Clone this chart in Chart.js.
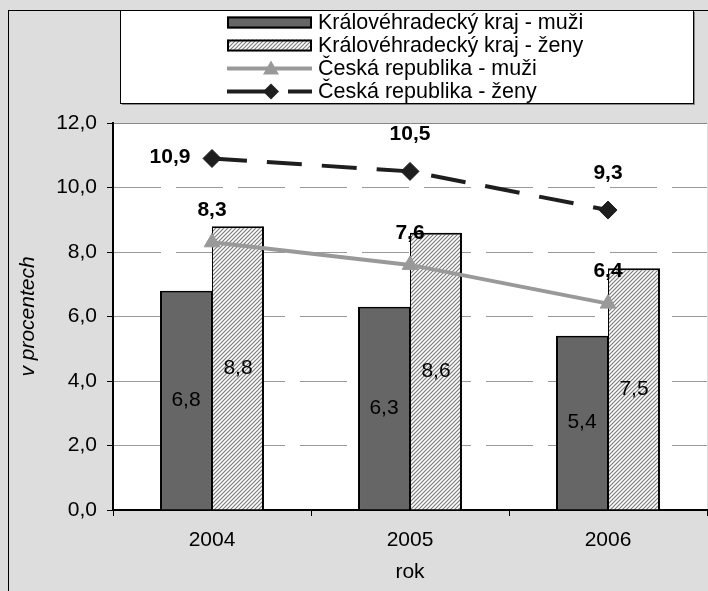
<!DOCTYPE html>
<html><head><meta charset="utf-8">
<script src="https://cdn.jsdelivr.net/npm/chart.js@4/dist/chart.umd.min.js"></script>
<style>html,body{margin:0;padding:0;background:#dddddd;overflow:hidden;width:708px;height:591px}canvas{display:block;position:absolute;left:0;top:0}</style>
</head><body><canvas id="c" width="708" height="591" style="width:708px;height:591px"></canvas>
<script>
const categories = ['2004', '2005', '2006'];
const krajMuzi = [6.8, 6.3, 5.4];
const krajZeny = [8.8, 8.6, 7.5];
const crMuzi = [8.3, 7.6, 6.4];
const crZeny = [10.9, 10.5, 9.3];
const seriesNames = ['Královéhradecký kraj - muži', 'Královéhradecký kraj - ženy', 'Česká republika - muži', 'Česká republika - ženy'];
const yMin = 0, yMax = 12, yStep = 2;
const xTitle = 'rok';
const yTitle = 'v procentech';

const FONT = "'Liberation Sans', Arial, sans-serif";
const FS = 21;
const canvas = document.getElementById('c');
const mainCtx = canvas.getContext('2d');

function makeHatch() {
  const p = document.createElement('canvas'); p.width = 4; p.height = 4;
  const g = p.getContext('2d');
  g.fillStyle = '#ffffff'; g.fillRect(0, 0, 4, 4);
  g.strokeStyle = '#7c7c7c'; g.lineWidth = 1.2;
  g.beginPath();
  g.moveTo(-1, 5); g.lineTo(5, -1);
  g.moveTo(-1, 1); g.lineTo(1, -1);
  g.moveTo(3, 5); g.lineTo(5, 3);
  g.stroke();
  return mainCtx.createPattern(p, 'repeat');
}
const hatch = makeHatch();
const fmt = v => v.toFixed(1).replace('.', ',');

const bgPlugin = {
  id: 'bg',
  beforeDraw(chart) {
    const ctx = chart.ctx, a = chart.chartArea;
    ctx.save();
    ctx.fillStyle = '#dddddd';
    ctx.fillRect(0, 0, chart.width, chart.height);
    ctx.strokeStyle = '#000';
    ctx.lineWidth = 1;
    ctx.strokeRect(8.5, 10.5, chart.width + 10, chart.height + 10);
    ctx.fillStyle = '#ffffff';
    ctx.fillRect(a.left, a.top, a.right - a.left, a.bottom - a.top);
    ctx.restore();
  },
  afterDraw(chart) {
    const ctx = chart.ctx;
    ctx.save();
    ctx.fillStyle = '#888';
    ctx.fillRect(122, 12, 573, 93);
    ctx.fillStyle = '#fff';
    ctx.fillRect(120, 10, 573, 93);
    ctx.strokeStyle = '#000'; ctx.lineWidth = 1;
    ctx.strokeRect(120.5, 10.5, 573, 93);
    const x0 = 227, x1 = 312, mx = 271, tx = 318;
    const rows = [22.5, 45.5, 68.5, 91.5];
    const ds = chart.data.datasets;
    rows.forEach((ry, i) => {
      const d = ds[i];
      if (i < 2) {
        ctx.fillStyle = d.backgroundColor;
        ctx.fillRect(x0, ry - 6, x1 - x0, 12);
        ctx.strokeStyle = '#000'; ctx.lineWidth = 2;
        ctx.strokeRect(x0 + 1, ry - 5, x1 - x0 - 2, 10);
      } else {
        ctx.strokeStyle = d.borderColor; ctx.lineWidth = 4;
        ctx.setLineDash(i === 3 ? [43, 18] : []);
        ctx.beginPath(); ctx.moveTo(x0, ry); ctx.lineTo(x1, ry); ctx.stroke();
        ctx.setLineDash([]);
        ctx.fillStyle = d.pointBackgroundColor;
        ctx.beginPath();
        if (i === 2) {
          ctx.moveTo(mx, ry - 8); ctx.lineTo(mx + 8, ry + 6); ctx.lineTo(mx - 8, ry + 6);
        } else {
          ctx.moveTo(mx, ry - 8); ctx.lineTo(mx + 8, ry); ctx.lineTo(mx, ry + 8); ctx.lineTo(mx - 8, ry);
        }
        ctx.closePath(); ctx.fill();
      }
      ctx.fillStyle = '#000';
      ctx.font = '21.5px ' + FONT;
      ctx.textAlign = 'left'; ctx.textBaseline = 'middle';
      ctx.fillText(d.label, tx, ry + 1);
    });
    ctx.restore();
  }
};

const labelPlugin = {
  id: 'vals',
  afterDatasetsDraw(chart) {
    const ctx = chart.ctx;
    ctx.save();
    ctx.fillStyle = '#000';
    ctx.textAlign = 'center'; ctx.textBaseline = 'middle';
    [0, 1].forEach(i => {
      const meta = chart.getDatasetMeta(i);
      ctx.font = FS + 'px ' + FONT;
      meta.data.forEach((el, j) => {
        ctx.fillText(fmt(chart.data.datasets[i].data[j]), el.x, (el.y + el.base) / 2);
      });
    });
    ctx.font = 'bold ' + FS + 'px ' + FONT;
    const m2 = chart.getDatasetMeta(2);
    m2.data.forEach((el, j) => {
      ctx.fillText(fmt(chart.data.datasets[2].data[j]), el.x, el.y - 32);
    });
    const m3 = chart.getDatasetMeta(3);
    m3.data.forEach((el, j) => {
      if (j === 0) ctx.fillText(fmt(chart.data.datasets[3].data[j]), el.x - 42, el.y - 1);
      else ctx.fillText(fmt(chart.data.datasets[3].data[j]), el.x, el.y - 37);
    });
    ctx.restore();
  }
};

new Chart(canvas, {
  data: {
    labels: categories,
    datasets: [
      { type: 'bar', label: seriesNames[0], data: krajMuzi, backgroundColor: '#666666', borderColor: '#000',
        borderWidth: { top: 2, left: 2, right: 1, bottom: 0 }, borderSkipped: false, order: 2 },
      { type: 'bar', label: seriesNames[1], data: krajZeny, backgroundColor: hatch, borderColor: '#000',
        borderWidth: { top: 2, left: 1, right: 2, bottom: 0 }, borderSkipped: false, order: 2 },
      { type: 'line', label: seriesNames[2], data: crMuzi, borderColor: '#999999', borderWidth: 4,
        pointStyle: 'triangle', pointRadius: 9, pointBackgroundColor: '#999999', pointBorderColor: '#999999',
        pointBorderWidth: 1, tension: 0, fill: false, order: 1 },
      { type: 'line', label: seriesNames[3], data: crZeny, borderColor: '#1e1e1e', borderWidth: 4, borderDash: [35, 20],
        pointStyle: 'rectRot', pointRadius: 9, pointBackgroundColor: '#1e1e1e', pointBorderColor: '#1e1e1e',
        pointBorderWidth: 1, tension: 0, fill: false, order: 0 }
    ]
  },
  options: {
    responsive: false, maintainAspectRatio: false, animation: false, devicePixelRatio: 1,
    layout: { autoPadding: false, padding: { top: 123, left: 0, right: 1, bottom: 0 } },
    datasets: { bar: { categoryPercentage: 0.525, barPercentage: 1 } },
    plugins: { legend: { display: false }, tooltip: { enabled: false } },
    font: { family: FONT, size: FS },
    scales: {
      x: {
        offset: true,
        grid: { offset: true, drawOnChartArea: false, drawTicks: true, tickLength: 6, tickColor: '#000', tickWidth: 1 },
        border: { display: true, color: '#000', width: 2 },
        ticks: { color: '#000', padding: 12, font: { family: FONT, size: FS } },
        title: { display: true, text: xTitle, color: '#000', font: { family: FONT, size: FS }, padding: { top: 0, bottom: 6 } },
        afterFit(s) { s.height = 81; }
      },
      y: {
        min: yMin, max: yMax,
        grid: { color: c => c.tick && c.tick.value === yMax ? '#888' : '#999', lineWidth: 1, tickLength: 6, tickColor: '#000', drawTicks: true },
        border: { display: true, color: '#000', width: 2, dash: c => (c.tick && c.tick.value === yMax) ? [] : [47, 15] },
        ticks: { stepSize: yStep, color: '#000', padding: 10, callback: v => fmt(v), font: { family: FONT, size: FS } },
        title: { display: true, text: yTitle, color: '#000', font: { family: FONT, size: FS, style: 'italic' }, padding: { top: 16, bottom: 0 } },
        afterFit(s) { s.width = 113; }
      }
    }
  },
  plugins: [bgPlugin, labelPlugin]
});
</script></body></html>
